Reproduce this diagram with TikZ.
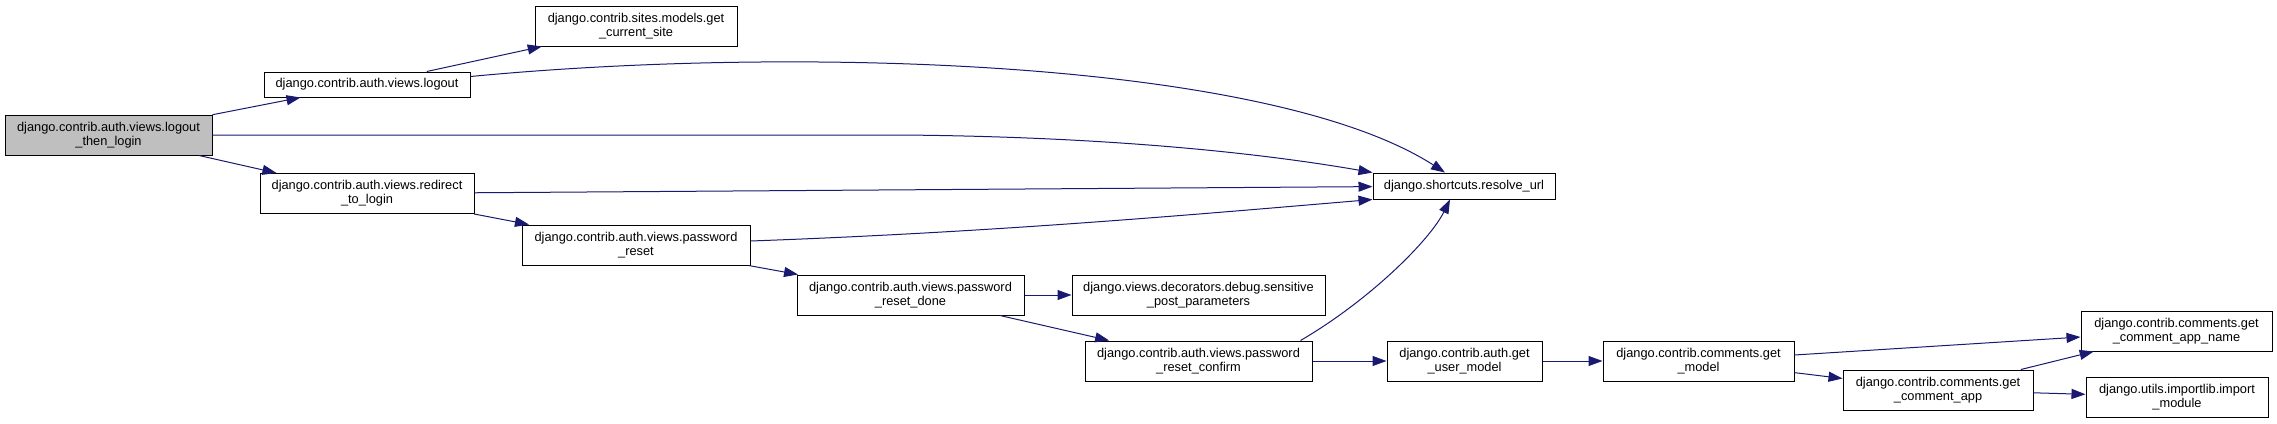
\documentclass[tikz,border=0pt]{standalone}
\usepackage{fontspec}
\setmainfont{Liberation Sans}
\usetikzlibrary{arrows.meta}
\definecolor{kante}{HTML}{191970}
\definecolor{grau}{HTML}{BFBFBF}
\begin{document}
\begin{tikzpicture}[x=1pt, y=-1pt,
    fn/.style={draw=black, fill=white, line width=1pt, inner sep=0pt, align=center,
        minimum height=40pt, font=\fontsize{12.8}{14}\selectfont},
    call/.style={-{Triangle[length=14pt,width=10pt]}, draw=kante, line width=1pt}]
    \useasboundingbox (0,0) rectangle (2277,423);

    % Funktionen
    \node[fn, fill=grau, minimum width=207pt] (ltl) at (108.5,135) {django.contrib.auth.views.logout\\\_then\_login};
    \node[fn, minimum width=206pt, minimum height=25pt] (logout) at (367,84.5) {django.contrib.auth.views.logout};
    \node[fn, minimum width=202pt] (site) at (636,26) {django.contrib.sites.models.get\\\_current\_site};
    \node[fn, minimum width=214pt] (redir) at (367,193.5) {django.contrib.auth.views.redirect\\\_to\_login};
    \node[fn, minimum width=182pt, minimum height=26pt] (resolve) at (1464,186) {django.shortcuts.resolve\_url};
    \node[fn, minimum width=228pt] (preset) at (636,245) {django.contrib.auth.views.password\\\_reset};
    \node[fn, minimum width=227pt] (pdone) at (910.5,295) {django.contrib.auth.views.password\\\_reset\_done};
    \node[fn, minimum width=253pt] (sens) at (1198.5,295) {django.views.decorators.debug.sensitive\\\_post\_parameters};
    \node[fn, minimum width=227pt] (pconf) at (1198.5,361) {django.contrib.auth.views.password\\\_reset\_confirm};
    \node[fn, minimum width=155pt] (usermodel) at (1464.5,361) {django.contrib.auth.get\\\_user\_model};
    \node[fn, minimum width=191pt] (getmodel) at (1698.5,361) {django.contrib.comments.get\\\_model};
    \node[fn, minimum width=191pt] (appname) at (2176.5,331) {django.contrib.comments.get\\\_comment\_app\_name};
    \node[fn, minimum width=190pt] (app) at (1938,390) {django.contrib.comments.get\\\_comment\_app};
    \node[fn, minimum width=182pt] (importmod) at (2177,397) {django.utils.importlib.import\\\_module};

    % Aufrufe
    \draw[call] (ltl) -- (logout);
    \draw[call] (ltl.east) -- (900,135) .. controls (1150,137) and (1300,160) .. (resolve.north west);
    \draw[call] (ltl) -- (redir);
    \draw[call] (logout) -- (site);
    \draw[call] ([yshift=8pt]logout.east) .. controls (800,45) and (1270,60) .. ([xshift=-19pt]resolve.north);
    \draw[call] (redir) -- (resolve);
    \draw[call] (redir) -- (preset);
    \draw[call] ([yshift=4pt]preset.east) .. controls (1000,232) and (1200,214) .. (resolve.south west);
    \draw[call] (preset) -- (pdone);
    \draw[call] (pdone) -- (sens);
    \draw[call] (pdone) -- (pconf);
    \draw[call] ([xshift=-12pt]pconf.north east) .. controls (1370,300) and (1430,240) .. ([xshift=-14pt]resolve.south);
    \draw[call] (pconf) -- (usermodel);
    \draw[call] (usermodel) -- (getmodel);
    \draw[call] (getmodel) -- (appname);
    \draw[call] (getmodel) -- (app);
    \draw[call] (app) -- (appname);
    \draw[call] (app) -- (importmod);
\end{tikzpicture}
\end{document}
